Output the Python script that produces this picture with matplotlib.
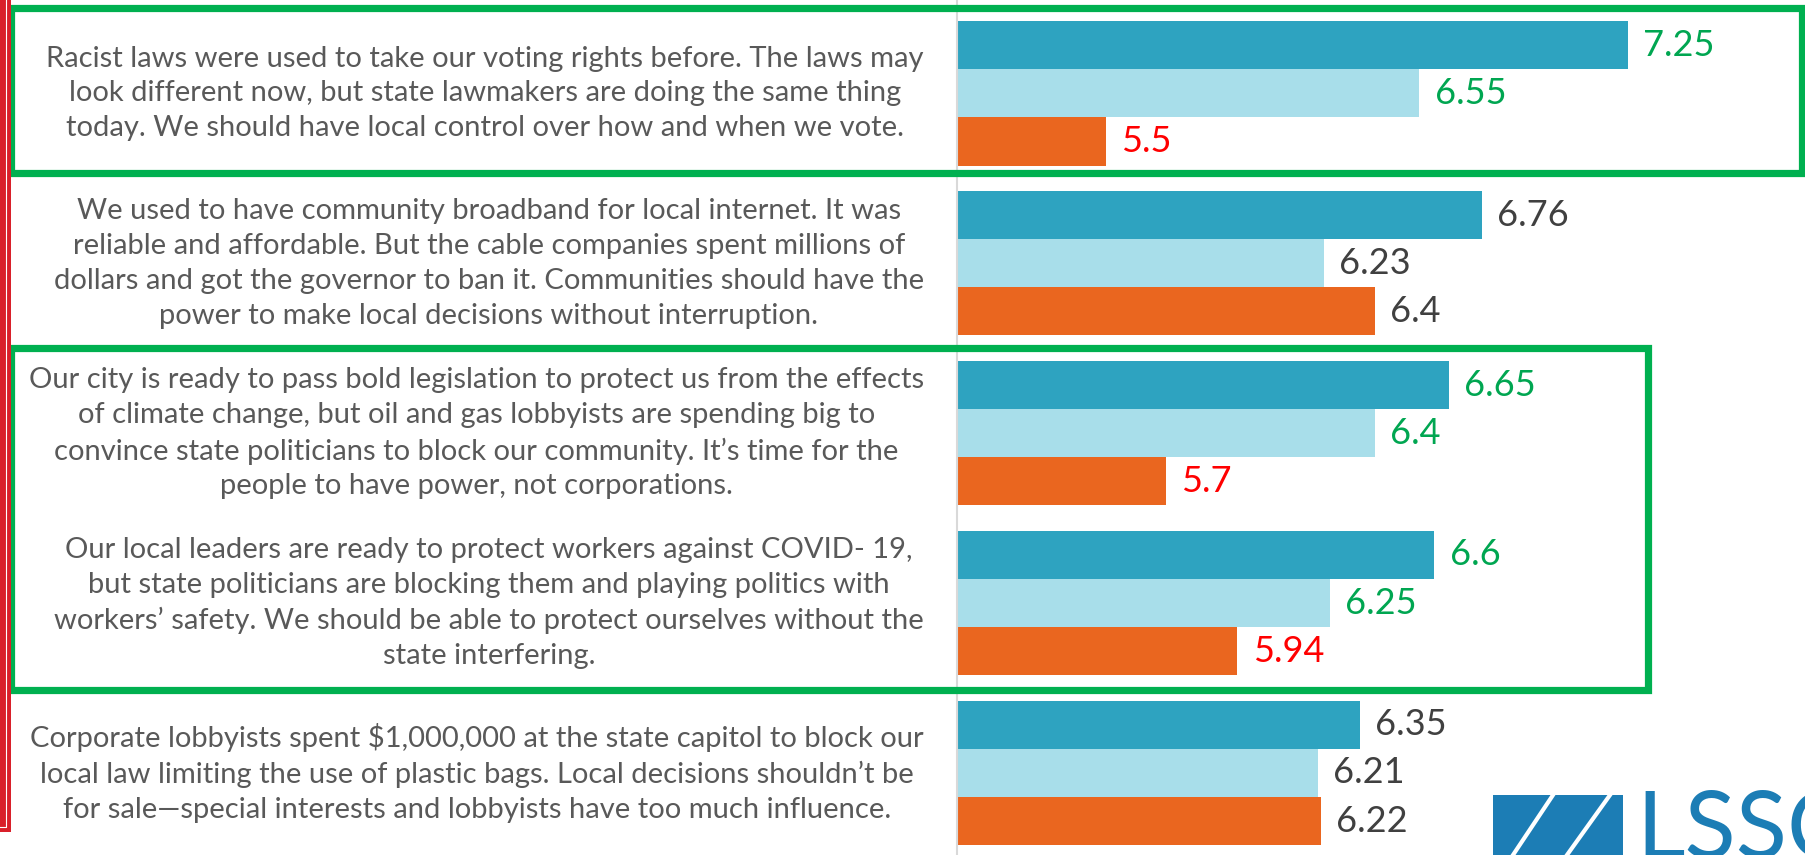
import numpy as np
import matplotlib.pyplot as plt
from matplotlib import patches
from matplotlib.lines import Line2D
import matplotlib.transforms as mtransforms

plt.rcParams['font.family'] = ['Lato', 'DejaVu Sans']

# данные
statements = [
    "Racist laws were used to take our voting rights before. The laws may\n"
    "look different now, but state lawmakers are doing the same thing\n"
    "today. We should have local control over how and when we vote.",
    "We used to have community broadband for local internet. It was\n"
    "reliable and affordable. But the cable companies spent millions of\n"
    "dollars and got the governor to ban it. Communities should have the\n"
    "power to make local decisions without interruption.",
    "Our city is ready to pass bold legislation to protect us from the effects\n"
    "of climate change, but oil and gas lobbyists are spending big to\n"
    "convince state politicians to block our community. It\u2019s time for the\n"
    "people to have power, not corporations.",
    "Our local leaders are ready to protect workers against COVID- 19,\n"
    "but state politicians are blocking them and playing politics with\n"
    "workers\u2019 safety. We should be able to protect ourselves without the\n"
    "state interfering.",
    "Corporate lobbyists spent \\$1,000,000 at the state capitol to block our\n"
    "local law limiting the use of plastic bags. Local decisions shouldn\u2019t be\n"
    "for sale\u2014special interests and lobbyists have too much influence.",
]
series_1 = [7.25, 6.76, 6.65, 6.6, 6.35]
series_2 = [6.55, 6.23, 6.4, 6.25, 6.21]
series_3 = [5.5, 6.4, 5.7, 5.94, 6.22]
highlighted = [True, False, True, True, False]

W, H = 1806, 855
fig = plt.figure(figsize=(W / 100, H / 100), dpi=100)
fig.patch.set_facecolor('white')

def fx(px):
    return px / W

def fy(py):
    return 1 - py / H

ax = fig.add_axes([fx(957), 0, 1 - fx(957), 1])

bar_colors = ['#2EA3C0', '#A8DEEA', '#EA661F']
bh = 0.283
y = np.arange(len(statements))
all_series = [series_1, series_2, series_3]
for k, (vals, col) in enumerate(zip(all_series, bar_colors)):
    pos = y + (k - 1) * bh
    ax.barh(pos, vals, height=bh, color=col, linewidth=0)
    for i, v in enumerate(vals):
        if highlighted[i]:
            tc = '#FF0000' if k == 2 else '#00A651'
        else:
            tc = '#404040'
        ax.annotate(f"{v:g}", (v, pos[i]), xytext=(11, 0), textcoords='offset points',
                    ha='left', va='center', fontsize=26, color=tc)

ax.set_xlim(5, 7.846)
ax.set_ylim(4.483, -0.550)
ax.set_xticks([])
ax.set_yticks([])
for s in ['top', 'right', 'bottom']:
    ax.spines[s].set_visible(False)
ax.spines['left'].set_color('#D9D9D9')
ax.spines['left'].set_linewidth(1.5)

# подписи слева
trans = mtransforms.blended_transform_factory(fig.transFigure, ax.transData)
for i, s in enumerate(statements):
    ax.text(fx(924), i, s, transform=trans, ha='right', va='center',
            multialignment='center', fontsize=21, color='#595959',
            linespacing=1.42, clip_on=False)

# зелёные рамки
for x0, y0, x1, y1 in [(11.5, 8.5, 1802, 173.5), (11.5, 347.5, 1648, 690)]:
    fig.patches.append(patches.Rectangle((fx(x0), fy(y1)), fx(x1) - fx(x0), fy(y0) - fy(y1),
                                         transform=fig.transFigure, fill=False,
                                         edgecolor='#00B050', linewidth=5.2))

# красная рамка слева
fig.patches.append(patches.Rectangle((0, fy(832)), fx(11), 1 - fy(832),
                                     transform=fig.transFigure, color='#D9202A', linewidth=0))
fig.lines.append(Line2D([fx(6.5), fx(6.5), 0], [1, fy(827), fy(827)],
                        transform=fig.transFigure, color='white', linewidth=0.8))

# логотип
logo_blue = '#1C7DB5'
fig.patches.append(patches.Rectangle((fx(1493), 0), fx(1623) - fx(1493), fy(795),
                                     transform=fig.transFigure, color=logo_blue, linewidth=0))
for xt, xb in [(1553, 1513), (1610, 1567)]:
    fig.lines.append(Line2D([fx(xt), fx(xb)], [fy(795), fy(855)],
                            transform=fig.transFigure, color='white', linewidth=3))
fig.text(fx(1636), fy(790), "LSSC", ha='left', va='top', fontsize=68,
         color=logo_blue, fontweight='normal')

fig.savefig('out.png', dpi=100, facecolor='white')
